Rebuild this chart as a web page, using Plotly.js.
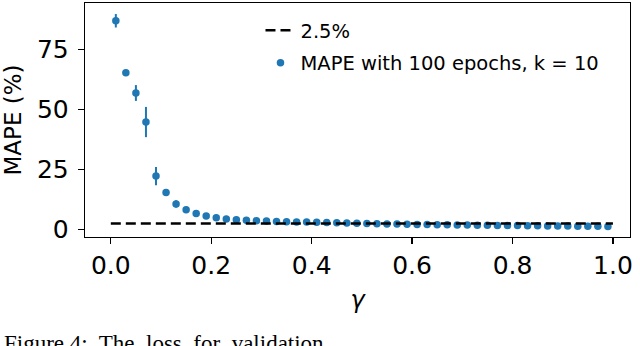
<!DOCTYPE html>
<html>
<head>
<meta charset="utf-8">
<script src="https://cdn.plot.ly/plotly-3.0.1.min.js"></script>
<style>
  html, body { margin: 0; padding: 0; background: #ffffff; }
  #chart { width: 640px; height: 346px; }
</style>
</head>
<body>
<div id="chart"></div>
<script>
// gamma values (x)
const gamma = [0.01,0.03,0.05,0.07,0.09,0.11,0.13,0.15,0.17,0.19,
               0.21,0.23,0.25,0.27,0.29,0.31,0.33,0.35,0.37,0.39,
               0.41,0.43,0.45,0.47,0.49,0.51,0.53,0.55,0.57,0.59,
               0.61,0.63,0.65,0.67,0.69,0.71,0.73,0.75,0.77,0.79,
               0.81,0.83,0.85,0.87,0.89,0.91,0.93,0.95,0.97,0.99];
// MAPE (%) mean values
const mape = [87.0,65.3,56.9,44.8,22.3,15.4,10.7,8.3,6.7,5.6,
              4.9,4.4,4.1,3.9,3.7,3.6,3.4,3.3,3.2,3.1,
              3.0,2.9,2.8,2.7,2.6,2.5,2.4,2.3,2.3,2.2,
              2.1,2.1,2.0,2.0,1.9,1.9,1.8,1.8,1.7,1.7,
              1.7,1.6,1.6,1.5,1.5,1.5,1.4,1.4,1.4,1.3];
// error (std) values
const mapeErr = [2.8,1.0,3.3,6.3,3.8,1.0,1.5,0.7,0.5,0.4,
                 0.3,0.3,0.3,0.3,0.3,0.3,0.3,0.3,0.3,0.3,
                 0.3,0.3,0.3,0.3,0.3,0.3,0.3,0.3,0.3,0.3,
                 0.3,0.3,0.3,0.3,0.3,0.3,0.3,0.3,0.3,0.3,
                 0.3,0.3,0.3,0.3,0.3,0.3,0.3,0.3,0.3,0.3];
// threshold line
const thresholdX = [0, 1];
const thresholdY = [2.5, 2.5];
const xTicks = [0, 0.2, 0.4, 0.6, 0.8, 1.0];
const xTickLabels = ["0.0", "0.2", "0.4", "0.6", "0.8", "1.0"];
const yTicks = [0, 25, 50, 75];
const yTickLabels = ["0", "25", "50", "75"];

const blue = "#1f77b4";
const font = "DejaVu Sans, sans-serif";

const traces = [
  {
    x: gamma, y: mape,
    type: "scatter", mode: "markers",
    name: "MAPE with 100 epochs, k = 10",
    marker: { color: blue, size: 7.5, line: { width: 0 } },
    error_y: { type: "data", array: mapeErr, visible: true, color: blue, thickness: 2, width: 0 },
    legendgroup: "b", legendrank: 2
  },
  {
    x: thresholdX, y: thresholdY,
    type: "scatter", mode: "lines",
    name: "2.5%",
    line: { color: "#000000", width: 2.5, dash: "10px,5px" },
    legendgroup: "a", legendrank: 1
  }
];

const axisCommon = {
  showgrid: false, zeroline: false,
  showline: true, mirror: true, linecolor: "#000000", linewidth: 1.3,
  ticks: "outside", ticklen: 6, tickwidth: 1.3, tickcolor: "#000000",
  tickfont: { family: font, size: 25, color: "#000000" }
};

const layout = {
  width: 640, height: 346,
  paper_bgcolor: "#ffffff", plot_bgcolor: "#ffffff",
  margin: { l: 85, r: 10, t: 3, b: 109, pad: 0 },
  showlegend: true,
  legend: {
    x: 0.322, y: 0.965, xanchor: "left", yanchor: "top",
    bgcolor: "rgba(255,255,255,0)", borderwidth: 0,
    font: { family: font, size: 19.5, color: "#000000" },
    traceorder: "grouped", tracegroupgap: 4
  },
  xaxis: Object.assign({}, axisCommon, {
    range: [-0.0514, 1.034],
    tickvals: xTicks, ticktext: xTickLabels,
    title: { text: "<i>γ</i>", font: { family: font, size: 24, color: "#000000" }, standoff: 12 }
  }),
  yaxis: Object.assign({}, axisCommon, {
    range: [-3.1, 94.4],
    tickvals: yTicks, ticktext: yTickLabels,
    ticklabelstandoff: 4,
    title: { text: "MAPE (%)", font: { family: font, size: 23, color: "#000000" }, standoff: 11 }
  }),
  annotations: [
    {
      xref: "paper", yref: "paper", x: -0.152, y: -0.395,
      xanchor: "left", yanchor: "top", showarrow: false,
      text: "Figure 4:  The  loss  for  validation",
      font: { family: "Liberation Serif, serif", size: 23, color: "#000000" }
    }
  ]
};

Plotly.newPlot("chart", traces, layout, { displayModeBar: false, staticPlot: true });
</script>
</body>
</html>
